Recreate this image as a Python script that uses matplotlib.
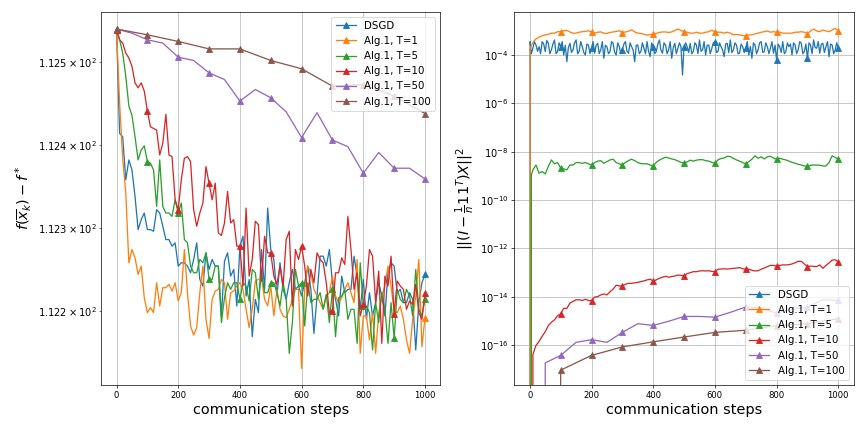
import numpy as np
import matplotlib
matplotlib.use('Agg')
import matplotlib.pyplot as plt

labels = ['DSGD', 'Alg.1, T=1', 'Alg.1, T=5', 'Alg.1, T=10', 'Alg.1, T=50', 'Alg.1, T=100']

# ---- left panel: f(x_bar_k) - f*, sampled every 10 steps (T=50 / T=100 at their own period)
steps_10 = list(range(0, 1001, 10))
steps_50 = list(range(0, 1001, 50))
steps_100 = list(range(0, 1001, 100))

dsgd_f = [112.539, 112.414, 112.410, 112.358, 112.382, 112.370, 112.338, 112.298, 112.310, 112.318,
          112.298, 112.298, 112.296, 112.322, 112.318, 112.302, 112.286, 112.286, 112.278, 112.282,
          112.254, 112.258, 112.258, 112.254, 112.246, 112.262, 112.282, 112.238, 112.230, 112.270,
          112.250, 112.262, 112.254, 112.254, 112.194, 112.260, 112.270, 112.242, 112.250, 112.206,
          112.278, 112.290, 112.218, 112.238, 112.169, 112.214, 112.198, 112.274, 112.226, 112.324,
          112.274, 112.262, 112.218, 112.258, 112.226, 112.214, 112.234, 112.250, 112.226, 112.230,
          112.218, 112.234, 112.254, 112.226, 112.173, 112.218, 112.266, 112.266, 112.254, 112.274,
          112.234, 112.214, 112.194, 112.242, 112.222, 112.226, 112.226, 112.266, 112.242, 112.202,
          112.238, 112.190, 112.222, 112.194, 112.210, 112.234, 112.218, 112.194, 112.246, 112.258,
          112.254, 112.222, 112.226, 112.210, 112.210, 112.222, 112.214, 112.153, 112.210, 112.234,
          112.244]

t1_f = [112.539, 112.451, 112.384, 112.342, 112.258, 112.274, 112.264, 112.244, 112.254, 112.216,
        112.198, 112.204, 112.198, 112.234, 112.206, 112.228, 112.228, 112.232, 112.224, 112.234,
        112.212, 112.222, 112.274, 112.222, 112.182, 112.171, 112.180, 112.222, 112.254, 112.190,
        112.167, 112.214, 112.224, 112.226, 112.238, 112.234, 112.190, 112.222, 112.224, 112.230,
        112.234, 112.226, 112.202, 112.180, 112.202, 112.236, 112.238, 112.240, 112.214, 112.206,
        112.230, 112.194, 112.226, 112.202, 112.194, 112.192, 112.202, 112.214, 112.226, 112.226,
        112.131, 112.226, 112.254, 112.246, 112.226, 112.218, 112.210, 112.202, 112.218, 112.222,
        112.242, 112.218, 112.210, 112.216, 112.226, 112.234, 112.222, 112.210, 112.262, 112.149,
        112.194, 112.194, 112.165, 112.198, 112.149, 112.198, 112.218, 112.230, 112.254, 112.230,
        112.200, 112.198, 112.206, 112.190, 112.165, 112.149, 112.190, 112.218, 112.262, 112.157,
        112.192]

t5_f = [112.539, 112.527, 112.511, 112.483, 112.447, 112.436, 112.410, 112.382, 112.394, 112.399,
        112.380, 112.378, 112.370, 112.326, 112.382, 112.326, 112.318, 112.318, 112.314, 112.334,
        112.318, 112.330, 112.286, 112.282, 112.254, 112.246, 112.246, 112.262, 112.258, 112.270,
        112.238, 112.238, 112.254, 112.254, 112.186, 112.216, 112.234, 112.226, 112.234, 112.234,
        112.214, 112.234, 112.230, 112.212, 112.250, 112.246, 112.214, 112.246, 112.222, 112.222,
        112.234, 112.234, 112.222, 112.206, 112.234, 112.214, 112.149, 112.186, 112.250, 112.230,
        112.234, 112.182, 112.234, 112.210, 112.214, 112.214, 112.222, 112.202, 112.220, 112.186,
        112.226, 112.169, 112.216, 112.218, 112.226, 112.190, 112.202, 112.202, 112.161, 112.258,
        112.206, 112.206, 112.198, 112.153, 112.210, 112.186, 112.222, 112.202, 112.161, 112.210,
        112.167, 112.226, 112.214, 112.210, 112.226, 112.218, 112.194, 112.250, 112.202, 112.194,
        112.214]

t10_f = [112.539, 112.527, 112.523, 112.511, 112.505, 112.495, 112.475, 112.469, 112.475, 112.465,
         112.441, 112.422, 112.420, 112.418, 112.388, 112.402, 112.437, 112.388, 112.386, 112.334,
         112.322, 112.358, 112.384, 112.386, 112.380, 112.322, 112.302, 112.318, 112.330, 112.374,
         112.354, 112.334, 112.354, 112.294, 112.291, 112.306, 112.344, 112.306, 112.310, 112.278,
         112.278, 112.230, 112.324, 112.242, 112.262, 112.308, 112.304, 112.236, 112.290, 112.270,
         112.270, 112.242, 112.232, 112.254, 112.230, 112.286, 112.296, 112.206, 112.274, 112.262,
         112.278, 112.254, 112.218, 112.250, 112.234, 112.270, 112.262, 112.258, 112.234, 112.198,
         112.200, 112.246, 112.246, 112.264, 112.256, 112.314, 112.274, 112.226, 112.246, 112.194,
         112.208, 112.230, 112.274, 112.266, 112.210, 112.248, 112.161, 112.242, 112.230, 112.266,
         112.196, 112.236, 112.230, 112.226, 112.202, 112.212, 112.208, 112.232, 112.198, 112.190,
         112.222]

t50_f = [112.540, 112.535, 112.527, 112.523, 112.506, 112.502, 112.487, 112.479, 112.453, 112.467,
         112.457, 112.440, 112.409, 112.439, 112.406, 112.398, 112.366, 112.391, 112.372, 112.372,
         112.359]

t100_f = [112.540, 112.533, 112.525, 112.516, 112.516, 112.502, 112.492, 112.471, 112.473, 112.459,
          112.438]

# ---- right panel: consensus error, stored as log10 of the value; every run starts at exactly 0
steps_dsgd = [1] + list(range(5, 1001, 5))
steps_t1 = [1] + list(range(10, 1001, 10))
steps_t5 = [5] + list(range(10, 1001, 10))
steps_t10 = list(range(10, 1001, 10))
steps_t50 = list(range(50, 1001, 50))
steps_t100 = list(range(100, 1001, 100))

dsgd_cons_exp = [-3.45,
                 -3.95, -3.72, -3.45, -3.59, -3.85, -3.66, -3.95, -3.45, -3.55, -3.86,
                 -3.40, -3.52, -3.95, -3.79, -3.55, -3.38, -3.95, -3.86, -3.50, -3.66,
                 -3.45, -4.00, -3.60, -4.28, -3.70, -3.52, -3.90, -3.79, -3.50, -3.38,
                 -3.95, -3.86, -3.45, -3.66, -3.90, -4.00, -3.55, -3.59, -3.95, -3.72,
                 -3.45, -3.93, -3.60, -3.52, -3.95, -3.79, -3.45, -4.14, -3.60, -3.66,
                 -3.95, -3.86, -3.45, -3.52, -3.90, -4.00, -3.50, -3.66, -3.95, -3.79,
                 -3.55, -3.45, -3.85, -3.93, -3.50, -3.66, -3.80, -4.28, -3.60, -3.59,
                 -3.95, -3.86, -3.50, -3.72, -3.95, -3.45, -3.85, -4.07, -3.50, -3.66,
                 -3.95, -3.86, -3.55, -3.38, -3.80, -3.93, -3.50, -3.59, -3.95, -3.79,
                 -3.45, -4.14, -3.70, -3.52, -3.95, -3.72, -3.50, -3.66, -4.83, -3.66,
                 -3.50, -3.66, -3.90, -3.52, -3.95, -3.86, -3.50, -3.59, -3.95, -3.38,
                 -3.85, -3.79, -3.45, -4.00, -3.60, -3.59, -3.95, -3.72, -3.50, -3.45,
                 -3.90, -3.86, -3.50, -3.66, -3.80, -4.07, -3.55, -3.52, -3.90, -3.38,
                 -3.90, -3.79, -3.50, -3.59, -3.95, -3.93, -3.55, -3.66, -3.90, -3.72,
                 -3.45, -4.00, -3.65, -4.14, -3.50, -3.59, -3.95, -3.79, -3.50, -3.45,
                 -3.90, -3.86, -3.50, -3.66, -3.95, -3.72, -3.45, -3.93, -3.60, -4.21,
                 -3.55, -3.66, -3.90, -3.45, -3.95, -3.86, -3.50, -3.66, -3.55, -4.00,
                 -3.50, -3.59, -3.95, -3.79, -3.45, -3.52, -3.95, -3.86, -3.55, -4.14,
                 -3.50, -3.59, -3.95, -3.38, -3.70, -3.72, -3.45, -3.93, -3.55, -3.52,
                 -3.90, -3.66, -3.45, -4.07, -3.55, -3.59, -3.95, -3.79, -3.50, -3.72]

t1_cons_exp = [-3.72, -3.48, -3.34, -3.26, -3.21, -3.17, -3.15, -3.10, -3.10, -3.04,
               -3.04, -3.00, -2.99, -3.05, -3.10, -3.10, -3.06, -3.04, -3.03, -3.00,
               -3.05, -3.10, -3.06, -3.05, -3.10, -3.11, -3.07, -3.05, -3.03, -3.00,
               -3.08, -3.05, -3.02, -2.96, -3.05, -3.10, -3.11, -3.15, -3.18, -3.16,
               -3.14, -3.11, -3.07, -3.05, -3.05, -3.07, -3.05, -2.99, -2.93, -2.99,
               -3.04, -3.06, -3.10, -3.10, -3.06, -3.10, -3.10, -3.06, -3.04, -2.98,
               -3.05, -3.06, -3.06, -3.10, -3.06, -3.10, -3.17, -3.15, -3.17, -3.20,
               -3.22, -3.17, -3.17, -3.13, -3.10, -3.06, -3.04, -3.01, -3.06, -3.04,
               -3.06, -3.06, -3.10, -3.10, -3.10, -3.10, -3.06, -3.06, -3.04, -3.06,
               -3.12, -3.01, -2.93, -3.01, -3.04, -2.97, -3.01, -3.04, -2.97, -2.90,
               -3.02]

t5_cons_exp = [-8.96, -8.75, -8.55, -8.89, -8.82, -8.92, -8.61, -8.34, -8.50, -8.45,
               -8.68, -8.71, -8.75, -8.55, -8.55, -8.45, -8.45, -8.48, -8.45, -8.50,
               -8.57, -8.45, -8.39, -8.37, -8.48, -8.41, -8.34, -8.31, -8.45, -8.50,
               -8.55, -8.44, -8.37, -8.31, -8.37, -8.45, -8.49, -8.50, -8.50, -8.55,
               -8.59, -8.44, -8.35, -8.28, -8.23, -8.26, -8.30, -8.33, -8.38, -8.44,
               -8.48, -8.42, -8.35, -8.39, -8.35, -8.33, -8.33, -8.37, -8.39, -8.44,
               -8.48, -8.34, -8.28, -8.26, -8.19, -8.20, -8.28, -8.34, -8.39, -8.45,
               -8.50, -8.41, -8.31, -8.17, -8.27, -8.21, -8.30, -8.21, -8.19, -8.26,
               -8.31, -8.27, -8.31, -8.34, -8.39, -8.44, -8.48, -8.52, -8.55, -8.59,
               -8.61, -8.56, -8.55, -8.55, -8.56, -8.59, -8.59, -8.45, -8.17, -8.24,
               -8.31]

t10_cons_exp = [-16.38, -16.01, -15.84, -15.63, -15.44, -15.19, -15.05, -14.95, -14.78, -14.70,
                -14.47, -14.48, -14.26, -14.19, -14.12, -14.12, -14.15, -14.10, -14.15, -14.16,
                -14.01, -13.99, -13.92, -13.88, -13.92, -13.79, -13.68, -13.52, -13.55, -13.55,
                -13.48, -13.44, -13.44, -13.42, -13.40, -13.37, -13.34, -13.30, -13.27, -13.34,
                -13.30, -13.23, -13.19, -13.15, -13.19, -13.16, -13.14, -13.10, -13.11, -13.14,
                -13.04, -13.00, -12.96, -12.96, -12.93, -12.92, -12.93, -12.92, -12.95, -12.96,
                -12.86, -12.85, -12.84, -12.85, -12.84, -12.82, -12.81, -12.79, -12.84, -12.86,
                -12.86, -12.90, -12.93, -12.92, -12.86, -12.81, -12.75, -12.70, -12.70, -12.73,
                -12.70, -12.68, -12.68, -12.67, -12.64, -12.59, -12.53, -12.53, -12.64, -12.75,
                -12.73, -12.74, -12.75, -12.68, -12.82, -12.70, -12.60, -12.48, -12.47, -12.56]

t50_cons_exp = [-16.73, -16.42, -15.88, -15.77, -15.88, -15.47, -15.11, -15.18, -15.01, -14.81,
                -14.81, -14.84, -14.64, -14.42, -14.47, -14.67, -14.53, -14.42, -14.12, -14.15]

t100_cons_exp = [-17.03, -16.42, -16.07, -15.86, -15.66, -15.47, -15.38, -15.19, -15.11, -14.90]


def marks_every_100(steps):
    return [i for i, s in enumerate(steps) if s % 100 == 0]


def with_start(steps, exps):
    # prepend the step-0 point, where the consensus error is exactly zero
    return [0] + list(steps), np.r_[0.0, 10.0 ** np.array(exps)]


fig, (ax1, ax2) = plt.subplots(nrows=1, ncols=2, figsize=(14, 7))
fig.subplots_adjust(left=0.117, right=0.988, top=0.973, bottom=0.109, wspace=0.218)

left = [(steps_10, dsgd_f), (steps_10, t1_f), (steps_10, t5_f),
        (steps_10, t10_f), (steps_50, t50_f), (steps_100, t100_f)]
for i, ((x, y), lab) in enumerate(zip(left, labels)):
    # DSGD and T=1 only carry a marker at the two ends here
    me = [0, len(x) - 1] if i < 2 else marks_every_100(x)
    ax1.plot(x, y, marker='^', markevery=me, label=lab)
ax1.set_yscale('log')
ax1.set_ylim(112.111, 112.561)
ax1.grid(True)
ax1.tick_params(axis='y', which='both', labelsize=11.5)
ax1.legend(loc='upper right', fontsize=12)
ax1.set_xlabel('communication steps', fontsize=17)
ax1.set_ylabel(r'$f(\overline{x}_k) - f^*$', fontsize=17)

right = [(steps_dsgd, dsgd_cons_exp), (steps_t1, t1_cons_exp), (steps_t5, t5_cons_exp),
         (steps_t10, t10_cons_exp), (steps_t50, t50_cons_exp), (steps_t100, t100_cons_exp)]
for (s, e), lab in zip(right, labels):
    x, y = with_start(s, e)
    ax2.plot(x, y, marker='^', markevery=marks_every_100(x), label=lab)
ax2.set_yscale('log')
ax2.set_ylim(10 ** -17.64, 10 ** -2.21)
ax2.grid(True)
ax2.tick_params(axis='y', which='both', labelsize=11.5)
ax2.legend(loc='lower right', fontsize=12)
ax2.set_xlabel('communication steps', fontsize=17)
ax2.set_ylabel(r'$||(I-\frac{1}{n}11^T)X||^2$', fontsize=17)

fig.savefig('out.png', dpi=61.72)
